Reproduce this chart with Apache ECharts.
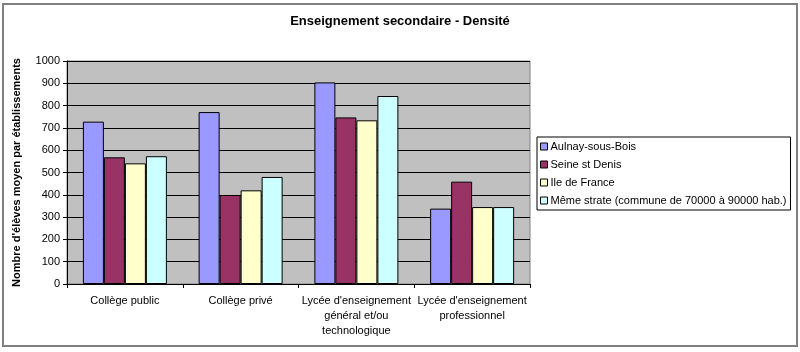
<!DOCTYPE html>
<html>
<head>
<meta charset="utf-8">
<script src="https://cdn.jsdelivr.net/npm/echarts@6/dist/echarts.min.js"></script>
<style>
  html, body { margin: 0; padding: 0; background: #fff; }
  #main { width: 800px; height: 352px; }
</style>
</head>
<body>
<div id="main"></div>
<script>
// categories and values
var categories = [
    'Collège public',
    'Collège privé',
    "Lycée d'enseignement\ngénéral et/ou\ntechnologique",
    "Lycée d'enseignement\nprofessionnel"
];
var seriesNames = [
    'Aulnay-sous-Bois',
    'Seine st Denis',
    'Ile de France',
    'Même strate (commune de 70000 à 90000 hab.)'
];
var aulnay = [728, 771, 904, 338];
var seineStDenis = [568, 399, 747, 459];
var ileDeFrance = [541, 420, 734, 345];
var memeStrate = [573, 480, 843, 345];
var colors = ['#9999FF', '#993366', '#FFFFCC', '#CCFFFF'];

var font = "'Liberation Sans', Arial, sans-serif";
var chartDom = document.getElementById('main');
var myChart = echarts.init(chartDom);

var values = [aulnay, seineStDenis, ileDeFrance, memeStrate];
var series = [];
for (var i = 0; i < seriesNames.length; i++) {
    series.push({
        name: seriesNames[i],
        type: 'bar',
        barWidth: 21,
        barGap: '0%',
        itemStyle: {
            color: colors[i],
            borderColor: '#000',
            borderWidth: 1
        },
        data: values[i]
    });
}

var option = {
    backgroundColor: '#fff',
    animation: false,
    textStyle: { fontFamily: font },
    title: {
        text: 'Enseignement secondaire - Densité',
        left: 'center',
        top: 10,
        textStyle: { fontSize: 13, fontWeight: 'bold', color: '#000', fontFamily: font }
    },
    graphic: [{
        type: 'rect',
        shape: { x: 3, y: 4, width: 794, height: 342 },
        style: { fill: 'none', stroke: '#808080', lineWidth: 2 },
        silent: true
    }],
    legend: {
        orient: 'vertical',
        left: 537,
        top: 137,
        data: seriesNames,
        icon: 'rect',
        itemWidth: 7,
        itemHeight: 7,
        itemGap: 7,
        padding: [4, 4, 4, 3],
        borderColor: '#000',
        borderWidth: 1,
        itemStyle: { borderColor: '#000', borderWidth: 1 },
        textStyle: { fontSize: 11, color: '#000', lineHeight: 11, fontFamily: font, padding: [0, 0, 0, -2] }
    },
    grid: {
        left: 67,
        right: 270,
        top: 61,
        bottom: 68,
        show: true,
        backgroundColor: '#C0C0C0',
        borderColor: '#808080',
        borderWidth: 1,
        containLabel: false
    },
    xAxis: {
        type: 'category',
        data: categories,
        axisLine: { lineStyle: { color: '#000' } },
        axisTick: { show: true, interval: 0, length: 4, lineStyle: { color: '#000' } },
        axisLabel: {
            interval: 0,
            margin: 9,
            fontSize: 11,
            lineHeight: 15,
            color: '#000',
            fontFamily: font
        }
    },
    yAxis: {
        type: 'value',
        min: 0,
        max: 1000,
        interval: 100,
        name: "Nombre d'élèves moyen par établissements",
        nameLocation: 'middle',
        nameGap: 45,
        nameTextStyle: { fontSize: 11, fontWeight: 'bold', color: '#000', fontFamily: font },
        axisLine: { show: true, lineStyle: { color: '#000' } },
        axisTick: { show: true, length: 4, lineStyle: { color: '#000' } },
        axisLabel: {
            fontSize: 11,
            color: '#000',
            margin: 7,
            fontFamily: font,
            formatter: function (v) { return String(v); }
        },
        splitLine: { show: true, lineStyle: { color: '#000', width: 1 } }
    },
    series: series
};

myChart.setOption(option);
</script>
</body>
</html>
